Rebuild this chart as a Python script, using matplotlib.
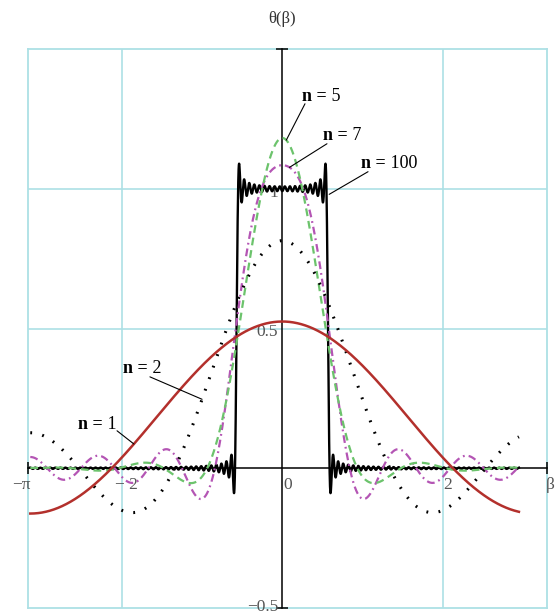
import numpy as np
import matplotlib.pyplot as plt

# unit rectangular pulse on |beta| < half_width, period 2*pi
half_width = 0.57
orders = [100, 7, 5, 2, 1]
beta_start, beta_stop = -np.pi, 2.95

line_colors = ["black", "#b455b4", "#6cc36c", "black", "#b3302c"]
line_styles = ["-", (0, (3.5, 1.8, 0.8, 1.8)), (0, (3.5, 2.2)), (0, (0.6, 3.4)), "-"]
line_widths = [1.7, 1.6, 1.6, 2.2, 1.8]

# curve labels: text anchor, start of leader line, beta where it meets the curve
label_pos = {5: (0.246, 1.329), 7: (0.508, 1.190), 100: (0.981, 1.089),
             2: (-1.986, 0.356), 1: (-2.547, 0.156)}
leader_start = {5: (0.283, 1.304), 7: (0.557, 1.161), 100: (1.069, 1.061),
                2: (-1.65, 0.327), 1: (-2.06, 0.134)}
leader_beta = {5: 0.05, 7: 0.09, 100: 0.585, 2: -1.0, 1: -1.85}

x_ticks = [-np.pi, -2, 0, 2]
x_tick_labels = ["\u2212\u03c0", "\u2212 2", "0", "2"]
y_ticks = [1.0, 0.5, -0.5]
y_tick_labels = ["1", "0.5", "\u22120.5"]


def theta(beta, n):
    k = np.arange(1, n + 1)[:, None]
    coef = 2 * np.sin(k * half_width) / (k * np.pi)
    return half_width / np.pi + (coef * np.cos(k * np.atleast_1d(beta))).sum(axis=0)


serif = "Liberation Serif"
fig = plt.figure(figsize=(5.55, 6.16), dpi=100)
ax = fig.add_axes([28 / 555, 8 / 616, 519 / 555, 559 / 616])
ax.set_xlim(-3.17, 3.30)
ax.set_ylim(-0.5, 1.5)

grid_col = "#ade0e5"
for s in ax.spines.values():
    s.set_color(grid_col)
    s.set_linewidth(1.3)
ax.set_xticks([-2, 2])
ax.set_yticks([0.5, 1.0])
ax.grid(color=grid_col, lw=1.2)
ax.tick_params(length=0, labelbottom=False, labelleft=False)

# axes through the origin with end ticks
ax.plot([-3.17, 3.30], [0, 0], color="black", lw=1.1, marker="|", ms=9,
        mew=1.1, clip_on=False, zorder=3)
ax.plot([0, 0], [-0.5, 1.5], color="black", lw=1.1, marker="_", ms=9,
        mew=1.1, clip_on=False, zorder=3)

beta = np.linspace(beta_start, beta_stop, 4000)
for i, n in enumerate(orders):
    ax.plot(beta, theta(beta, n), color=line_colors[i], ls=line_styles[i],
            lw=line_widths[i], zorder=4 + i)

for n in orders:
    x0, y0 = label_pos[n]
    t = ax.text(x0, y0, "n =", fontsize=13, fontweight="bold", family=serif,
                va="center", ha="left", zorder=10)
    ax.annotate(" " + str(n), xy=(1, 0.5), xycoords=t, fontsize=13,
                family=serif, va="center", ha="left", zorder=10)
    b = leader_beta[n]
    yb = 0.98 if n == 100 else theta(b, n)[0]
    ax.annotate("", xy=(b, yb), xytext=leader_start[n],
                arrowprops=dict(arrowstyle="-", color="black", lw=0.8,
                                shrinkA=0, shrinkB=0), zorder=10)

tick_col = "#555555"
for v, lab in zip(x_ticks, x_tick_labels):
    dx = -9 if lab.endswith("\u03c0") else 5
    ax.annotate(lab, xy=(v, 0), xytext=(dx, -17), textcoords="offset pixels",
                ha="center", va="center", fontsize=12.5, family=serif,
                color=tick_col, annotation_clip=False)
for v, lab in zip(y_ticks, y_tick_labels):
    dy = 1 if v < 0 else -4
    ax.annotate(lab, xy=(0, v), xytext=(-4, dy), textcoords="offset pixels",
                ha="right", va="center", fontsize=12.5, family=serif,
                color=tick_col, annotation_clip=False)

ax.annotate("\u03b8(\u03b2)", xy=(0, 1.5), xytext=(0, 30), textcoords="offset pixels",
            ha="center", va="center", fontsize=12, family=serif,
            color="#333333", annotation_clip=False)
ax.annotate("\u03b2", xy=(3.30, 0), xytext=(3, -17), textcoords="offset pixels",
            ha="center", va="center", fontsize=12.5, family=serif,
            color=tick_col, annotation_clip=False)

fig.savefig("out.png", dpi=100)
